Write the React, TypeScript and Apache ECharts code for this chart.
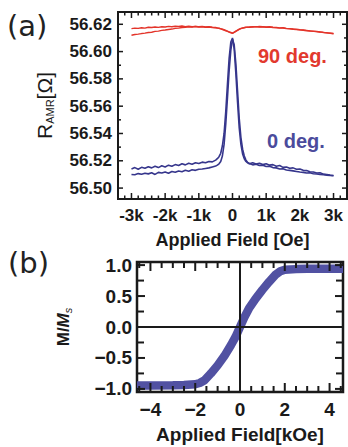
import React, { useEffect, useRef } from "react";
import * as echarts from "echarts";

// ---------- Panel (a): AMR resistance vs applied field ----------
const FIELD_OE = [
  -3000, -2900, -2800, -2700, -2600, -2500, -2400, -2300, -2200, -2100, -2000, -1900, -1800,
  -1700, -1600, -1500, -1400, -1300, -1200, -1100, -1000, -900, -800, -700, -600, -500,
  -450, -400, -350, -300, -250, -200, -150, -100, -50, 0, 50, 100, 150, 200, 250, 300, 350, 400, 450,
  500, 600, 700, 800, 900, 1000, 1100, 1200, 1300, 1400, 1500, 1600, 1700, 1800, 1900, 2000,
  2100, 2200, 2300, 2400, 2500, 2600, 2700, 2800, 2900, 3000,
];

const R_0DEG_SWEEP1 = [
  56.51, 56.5098, 56.5106, 56.5101, 56.5109, 56.5104, 56.5112, 56.51, 56.5115, 56.511, 56.5118, 56.5109, 56.5122,
  56.5116, 56.5125, 56.512, 56.513, 56.5124, 56.5134, 56.513, 56.5138, 56.514, 56.5144, 56.5148, 56.5155, 56.5162,
  56.5168, 56.5178, 56.5195, 56.5235, 56.532, 56.547, 56.566, 56.586, 56.601, 56.609, 56.605, 56.591, 56.571, 56.551,
  56.537, 56.5285, 56.5235, 56.5205, 56.5188,
  56.518, 56.517, 56.5175, 56.5165, 56.5168, 56.5158, 56.516, 56.515, 56.5148, 56.514, 56.5142, 56.5132, 56.513,
  56.5126, 56.5122, 56.5118, 56.5115, 56.511, 56.5112, 56.5105, 56.5103, 56.51, 56.5098, 56.5095, 56.5092, 56.509,
];
const R_0DEG_SWEEP2 = [
  56.514, 56.515, 56.5138, 56.5152, 56.5145, 56.5156, 56.5148, 56.516, 56.515, 56.5163, 56.5155, 56.5168, 56.516,
  56.5172, 56.5165, 56.5178, 56.517, 56.5182, 56.5175, 56.5186, 56.518, 56.519, 56.5185, 56.5195, 56.5192, 56.5205,
  56.5215, 56.523, 56.5255, 56.531, 56.54, 56.556, 56.576, 56.595, 56.607, 56.61, 56.602, 56.584, 56.563, 56.544,
  56.532, 56.525, 56.5215, 56.5195, 56.5185,
  56.5178, 56.5185, 56.5176, 56.5182, 56.5172, 56.5178, 56.5168, 56.5172, 56.516, 56.5165, 56.5152, 56.5155, 56.5145,
  56.5148, 56.5138, 56.514, 56.513, 56.5128, 56.512, 56.5118, 56.511, 56.5112, 56.5102, 56.51, 56.5095, 56.5092,
];
const R_90DEG_SWEEP1 = [
  56.6168, 56.6172, 56.617, 56.6175, 56.6172, 56.6178, 56.6176, 56.618, 56.6177, 56.6182, 56.618, 56.6185, 56.6182,
  56.6186, 56.6184, 56.6187, 56.6183, 56.6186, 56.6182, 56.6185, 56.618, 56.6182, 56.6178, 56.618, 56.6176, 56.6175,
  56.6172, 56.617, 56.6168, 56.6165, 56.616, 56.6155, 56.615, 56.6145, 56.614, 56.6135, 56.6142, 56.615, 56.6158,
  56.6165, 56.617, 56.6173, 56.6176, 56.6178, 56.6179,
  56.618, 56.6183, 56.6181, 56.6184, 56.6182, 56.618, 56.6182, 56.6178, 56.6177, 56.6174, 56.6175, 56.617, 56.6168,
  56.6165, 56.6164, 56.616, 56.6158, 56.6155, 56.6152, 56.615, 56.6146, 56.6144, 56.614, 56.6138, 56.6135, 56.6132,
];
const R_90DEG_SWEEP2 = [
  56.612, 56.6125, 56.6128, 56.6132, 56.6135, 56.614, 56.6142, 56.6148, 56.615, 56.6155, 56.6158, 56.6162, 56.6165,
  56.617, 56.6172, 56.6176, 56.6178, 56.6181, 56.618, 56.6184, 56.6182, 56.6185, 56.618, 56.6182, 56.6178, 56.6176,
  56.6174, 56.6171, 56.6166, 56.6162, 56.6158, 56.6152, 56.6148, 56.6142, 56.6137, 56.6134, 56.614, 56.6148, 56.6156,
  56.6163, 56.6168, 56.6172, 56.6175, 56.6177, 56.6178,
  56.6178, 56.618, 56.6183, 56.618, 56.6181, 56.6178, 56.6179, 56.6176, 56.6175, 56.6172, 56.6173, 56.6168, 56.6166,
  56.6164, 56.6161, 56.6159, 56.6156, 56.6153, 56.6151, 56.6148, 56.6147, 56.6143, 56.6141, 56.6137, 56.6134, 56.6131,
];

const A_X_TICKS = [-3000, -2000, -1000, 0, 1000, 2000, 3000];
const A_X_MINOR = [-3200, -2800, -2600, -2400, -2200, -1800, -1600, -1400, -1200, -800, -600, -400, -200, 200, 400, 600, 800, 1200, 1400, 1600, 1800, 2200, 2400, 2600, 2800, 3200];
const A_Y_TICKS = [56.5, 56.52, 56.54, 56.56, 56.58, 56.6, 56.62];
const A_Y_MINOR = [56.51, 56.53, 56.55, 56.57, 56.59, 56.61];

// ---------- Panel (b): magnetisation loop ----------
const FIELD_KOE = [-4.6, -4, -3, -2.5, -2, -1.8, -1.6, -1.3, -1.0, -0.7, -0.4, -0.2, 0, 0.2, 0.4, 0.7, 1.0, 1.3, 1.6, 1.8, 2.0, 2.5, 3, 4, 4.6];
const M_OVER_MS = [-0.945, -0.945, -0.942, -0.938, -0.925, -0.905, -0.865, -0.75, -0.62, -0.47, -0.29, -0.16, 0, 0.16, 0.3, 0.46, 0.6, 0.73, 0.85, 0.9, 0.925, 0.935, 0.94, 0.942, 0.942];

const B_X_TICKS = [-4, -2, 0, 2, 4];
const B_X_MINOR = [-4.5, -3.5, -3, -2.5, -1.5, -1, -0.5, 0.5, 1, 1.5, 2.5, 3, 3.5, 4.5];
const B_Y_TICKS = [-1, -0.5, 0, 0.5, 1];
const B_Y_MINOR = [-0.75, -0.25, 0.25, 0.75];
const ORIGIN = [[0, 0]];

const FONT = "Liberation Sans";
const BLUE = "#36368c";
const RED = "#e3342a";
const INK = "#1a1a1a";

export default function App() {
  const ref = useRef<HTMLDivElement>(null);
  useEffect(() => {
    if (!ref.current) return;
    const chart = echarts.init(ref.current, null, { renderer: "svg" });

    const aXmin = -3400, aXmax = 3400, aYmin = 56.492, aYmax = 56.629;
    const bXmin = -4.6, bXmax = 4.6, bYmin = -1.05, bYmax = 1.05;
    const fmtA = (v: number) => (v === 0 ? "0" : `${v / 1000}k`);
    const fmtAY = (v: number) => v.toFixed(2);
    const fmtBX = (v: number) => (v < 0 ? "\u2212" + Math.abs(v) : String(v));
    const fmtBY = (v: number) => (v < 0 ? "\u2212" : "") + Math.abs(v).toFixed(1);

    const ax = (grid: number, min: number, max: number, ticks: number[], fmt: (v: number) => string, margin: number, size: number, extra: any) => ({
      type: "value",
      gridIndex: grid,
      min,
      max,
      axisLine: { show: false, onZero: false },
      splitLine: { show: false },
      axisTick: { show: false },
      axisLabel: {
        show: true,
        customValues: ticks,
        formatter: fmt,
        margin,
        fontSize: size,
        fontWeight: "bold",
        fontFamily: FONT,
        color: INK,
      },
      ...extra,
    });

    // inward ticks on opposite frame sides, positioned by the axes' own scales
    const ticks = (gi: number, dir: "x" | "y", values: number[], anchor: number, len: number, width: number) => ({
      type: "custom",
      xAxisIndex: gi,
      yAxisIndex: gi,
      clip: false,
      z: 6,
      data: values.map((v) => (dir === "x" ? [v, anchor] : [anchor, v])),
      renderItem: (params: any, api: any) => {
        const cs = params.coordSys;
        const p = api.coord([api.value(0), api.value(1)]);
        const style = { stroke: INK, lineWidth: width };
        if (dir === "x") {
          const yb = cs.y + cs.height;
          return {
            type: "group",
            children: [
              { type: "line", shape: { x1: p[0], y1: yb, x2: p[0], y2: yb - len }, style },
              { type: "line", shape: { x1: p[0], y1: cs.y, x2: p[0], y2: cs.y + len }, style },
            ],
          };
        }
        const xr = cs.x + cs.width;
        return {
          type: "group",
          children: [
            { type: "line", shape: { x1: cs.x, y1: p[1], x2: cs.x + len, y2: p[1] }, style },
            { type: "line", shape: { x1: xr, y1: p[1], x2: xr - len, y2: p[1] }, style },
          ],
        };
      },
    });

    // zero cross-hair of panel (b)
    const cross = {
      type: "custom",
      xAxisIndex: 1,
      yAxisIndex: 1,
      clip: false,
      z: 7,
      data: ORIGIN,
      renderItem: (params: any, api: any) => {
        const cs = params.coordSys;
        const p = api.coord([api.value(0), api.value(1)]);
        const style = { stroke: INK, lineWidth: 2 };
        return {
          type: "group",
          children: [
            { type: "line", shape: { x1: cs.x, y1: p[1], x2: cs.x + cs.width, y2: p[1] }, style },
            { type: "line", shape: { x1: p[0], y1: cs.y, x2: p[0], y2: cs.y + cs.height }, style },
          ],
        };
      },
    };

    const pairs = (xs: number[], ys: number[]) => xs.map((x, i) => [x, ys[i]]);
    const titleStyle = (size: number, weight: string, color: string, family: string) => ({ fontSize: size, fontWeight: weight, color, fontFamily: family });

    chart.setOption({
      animation: false,
      title: [
        { text: "(a)", left: 7, top: 11, padding: 0, textStyle: titleStyle(29, "normal", "#222", "DejaVu Sans") },
        { text: "(b)", left: 8, top: 248, padding: 0, textStyle: titleStyle(29, "normal", "#222", "DejaVu Sans") },
        { text: "90 deg.", left: 258, top: 46, padding: 0, textStyle: titleStyle(20, "bold", "#e2392e", FONT) },
        { text: "0 deg.", left: 267, top: 131, padding: 0, textStyle: titleStyle(20, "bold", "#4b4b9c", FONT) },
      ],
      grid: [
        { left: 118, top: 12, width: 229, height: 187, show: true, borderColor: INK, borderWidth: 2 },
        { left: 137, top: 262, width: 206, height: 130, show: true, borderColor: INK, borderWidth: 2.5 },
      ],
      xAxis: [
        ax(0, aXmin, aXmax, A_X_TICKS, fmtA, 8, 17, {
          name: "Applied Field [Oe]",
          nameLocation: "middle",
          nameGap: 32,
          nameTextStyle: { fontSize: 18, fontWeight: "bold", fontFamily: FONT, color: INK },
        }),
        ax(1, bXmin, bXmax, B_X_TICKS, fmtBX, 8, 19, {
          name: "Applied Field[kOe]",
          nameLocation: "middle",
          nameGap: 33,
          nameTextStyle: { fontSize: 19, fontWeight: "bold", fontFamily: FONT, color: INK },
        }),
      ],
      yAxis: [
        ax(0, aYmin, aYmax, A_Y_TICKS, fmtAY, 6, 17, {
          name: "{r|R}{s|AMR}{r|[Ω]}",
          nameLocation: "middle",
          nameRotate: 90,
          nameGap: 63,
          nameTextStyle: {
            color: INK,
            rich: {
              r: { fontSize: 21, fontFamily: FONT, lineHeight: 22, color: INK },
              s: { fontSize: 11, fontFamily: FONT, lineHeight: 6, verticalAlign: "bottom", color: INK },
            },
          },
        }),
        ax(1, bYmin, bYmax, B_Y_TICKS, fmtBY, 5, 19, {
          name: "{m|M/}{i|M}{s|s}",
          nameLocation: "middle",
          nameRotate: 90,
          nameGap: 64,
          nameTextStyle: {
            color: INK,
            rich: {
              m: { fontSize: 17, fontWeight: "bold", fontFamily: FONT, lineHeight: 20, color: INK },
              i: { fontSize: 17, fontWeight: "bold", fontStyle: "italic", fontFamily: FONT, lineHeight: 20, color: INK },
              s: { fontSize: 11, fontStyle: "italic", fontFamily: FONT, lineHeight: 6, verticalAlign: "bottom", color: INK },
            },
          },
        }),
      ],
      series: [
        { type: "line", xAxisIndex: 0, yAxisIndex: 0, data: pairs(FIELD_OE, R_90DEG_SWEEP1), showSymbol: false, lineStyle: { color: RED, width: 1.4 } },
        { type: "line", xAxisIndex: 0, yAxisIndex: 0, data: pairs(FIELD_OE, R_90DEG_SWEEP2), showSymbol: false, lineStyle: { color: RED, width: 1.4 } },
        { type: "line", xAxisIndex: 0, yAxisIndex: 0, data: pairs(FIELD_OE, R_0DEG_SWEEP1), showSymbol: false, lineStyle: { color: BLUE, width: 1.6 } },
        { type: "line", xAxisIndex: 0, yAxisIndex: 0, data: pairs(FIELD_OE, R_0DEG_SWEEP2), showSymbol: false, lineStyle: { color: BLUE, width: 1.6 } },
        { type: "line", xAxisIndex: 1, yAxisIndex: 1, data: pairs(FIELD_KOE, M_OVER_MS), showSymbol: false, lineStyle: { color: "#5151a2", width: 8.5 } },
        cross,
        ticks(0, "x", A_X_TICKS, aYmin, 6, 1.5),
        ticks(0, "x", A_X_MINOR, aYmin, 3.5, 1.5),
        ticks(0, "y", A_Y_TICKS, aXmin, 5, 1.5),
        ticks(0, "y", A_Y_MINOR, aXmin, 3, 1.5),
        ticks(1, "x", B_X_TICKS, bYmin, 9, 2),
        ticks(1, "x", B_X_MINOR, bYmin, 6, 2),
        ticks(1, "y", B_Y_TICKS, bXmin, 8, 2),
        ticks(1, "y", B_Y_MINOR, bXmin, 7, 2),
      ],
    });
    return () => chart.dispose();
  }, []);
  return <div ref={ref} style={{ width: 348, height: 447, position: "absolute", left: 0, top: 0, background: "#fff" }} />;
}
